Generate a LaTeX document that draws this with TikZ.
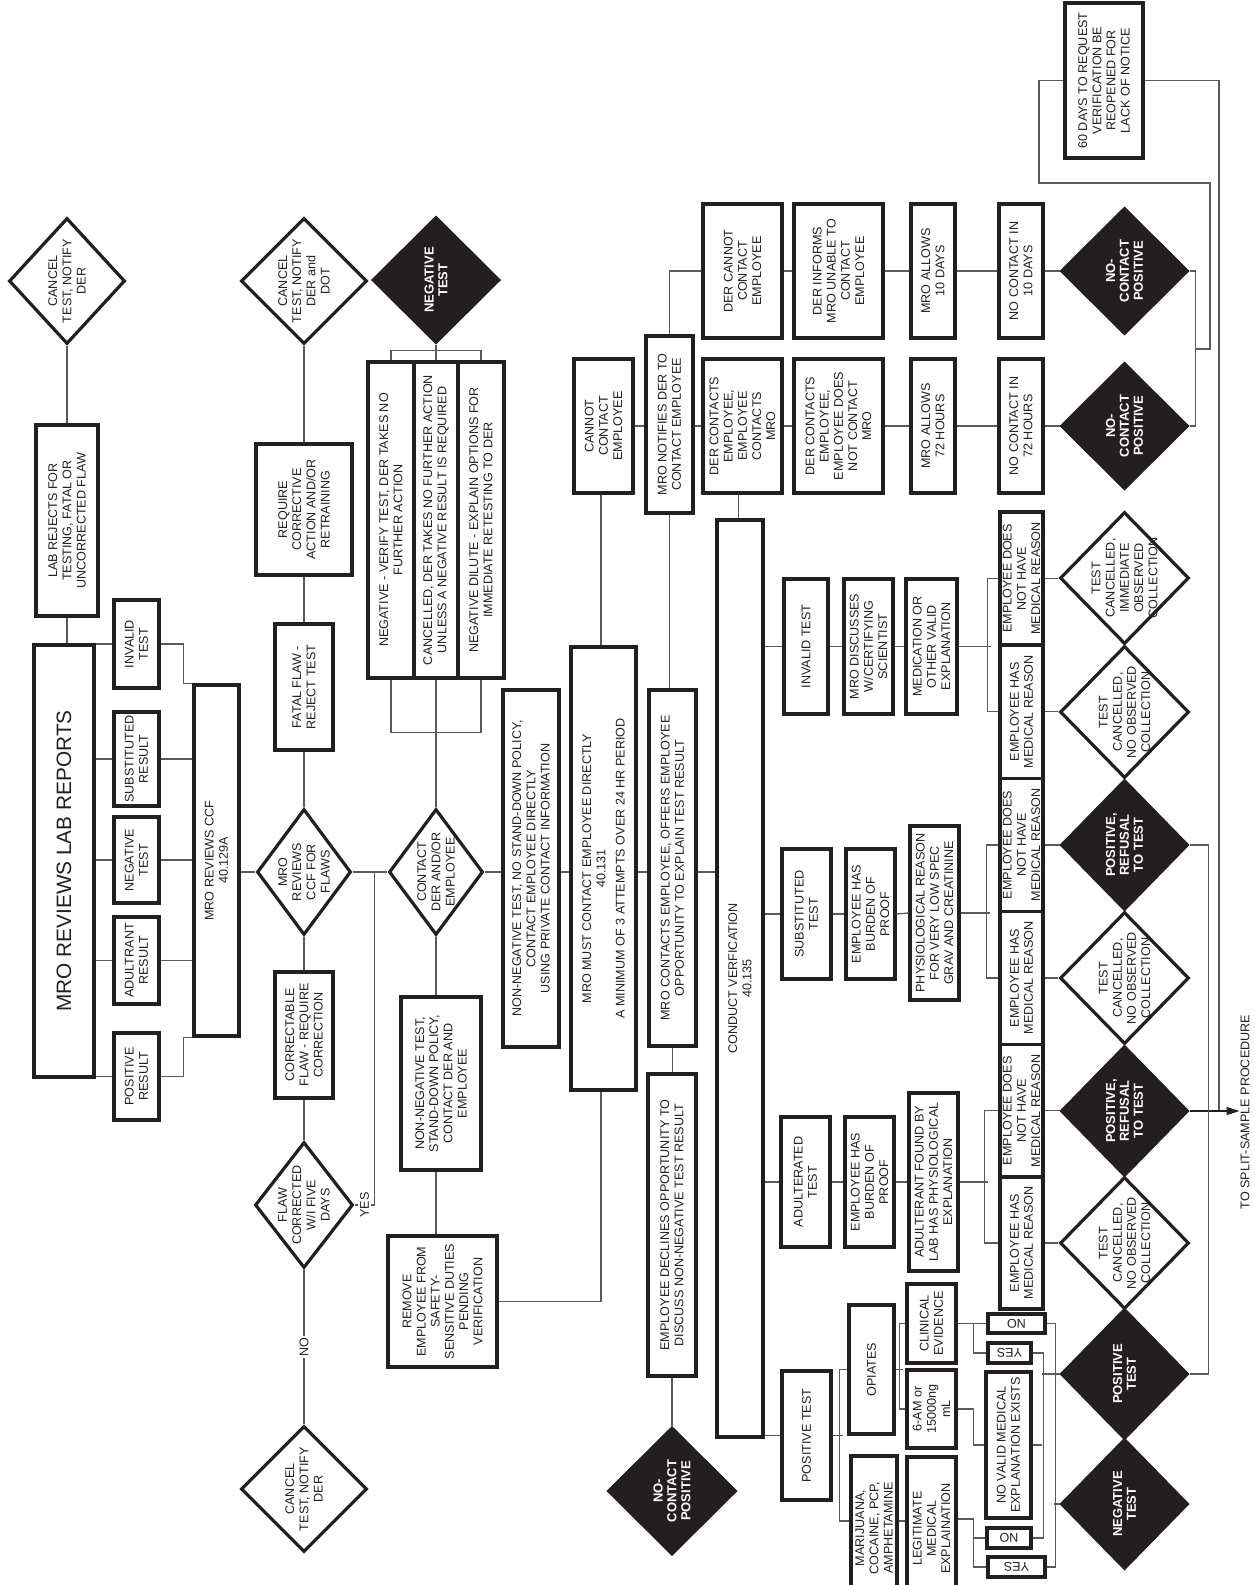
\documentclass[tikz,border=0pt]{standalone}
\usepackage{fontspec}
\setmainfont{Liberation Sans}
\usetikzlibrary{shapes.geometric,arrows.meta}
\definecolor{ink}{RGB}{35,31,32}
\definecolor{lnc}{RGB}{90,90,90}
\newcommand\myfs{\fontsize{12.6}{14.2}\selectfont}
\newcommand\myfb{\fontsize{13}{13.8}\selectfont\bfseries}
\newcommand\mytitle{\fontsize{20.8}{23}\selectfont}
\tikzset{
  box/.style={draw=ink,line width=3.2pt,inner sep=0pt,fill=white},
  txt/.style={align=center,inner sep=0pt,font=\myfs,text=ink},
  dia/.style={diamond,draw=ink,line width=3.2pt,inner sep=0pt,fill=white},
  bdia/.style={diamond,draw=ink,line width=1pt,inner sep=0pt,fill=ink},
  wtxt/.style={text=white,font=\myfb},
  ln/.style={draw=lnc,line width=1.3pt},
  lbl/.style={txt,rotate=90,fill=white,inner sep=2pt},
}
% box from (x1,y1) to (x2,y2), page pixels, y downward
\newcommand\bx[7][rotate=90]{%
  \pgfmathsetmacro\bxa{(#3+#5)/2}\pgfmathsetmacro\bxb{(#4+#6)/2}%
  \pgfmathsetmacro\bxw{#5-#3}\pgfmathsetmacro\bxh{#6-#4}%
  \node[box,minimum width=\bxw pt,minimum height=\bxh pt] (#2) at (\bxa,\bxb) {};%
  \node[txt,#1] (#2-t) at (#2.center) {#7};}
% diamond: style, name, cx, cy, half width, half height, text style, text
\newcommand\dm[8]{%
  \pgfmathsetmacro\dmw{2*#5}\pgfmathsetmacro\dmh{2*#6}%
  \node[#1,minimum width=\dmw pt,minimum height=\dmh pt] (#2) at (#3,#4) {};%
  \node[txt,rotate=90,#7] (#2-t) at (#2.center) {#8};}
\begin{document}
\begin{tikzpicture}[x=1pt,y=-1pt]
\fill[white] (0,0) rectangle (1254,1585);
\useasboundingbox (0,0) rectangle (1254,1585);

% ---------- left column ----------
\dm{dia}{can1}{67}{281}{58}{63}{}{CANCEL\\TEST, NOTIFY\\DER}
\bx{labrej}{36}{425}{98}{616}{LAB REJECTS FOR\\TESTING, FATAL OR\\UNCORRECTED FLAW}
\bx[rotate=90,font=\mytitle]{mrolab}{34}{645}{94}{1077}{MRO REVIEWS LAB REPORTS}
\bx{inval}{114}{600}{159}{688}{INVALID\\TEST}
\bx{subst}{114}{712}{159}{806}{SUBSTITUTED\\RESULT}
\bx{negr}{114}{817}{159}{903}{NEGATIVE\\TEST}
\bx{adult}{114}{917}{159}{1004}{ADULTRANT\\RESULT}
\bx{posr}{114}{1033}{159}{1120}{POSITIVE\\RESULT}
\bx{ccf}{194}{685}{239}{1036}{MRO REVIEWS CCF\\40.129A}

% ---------- flaw column ----------
\dm{dia}{can2}{304}{281}{63}{63}{}{CANCEL\\TEST, NOTIFY\\DER and\\DOT}
\bx{require}{256}{444}{352}{575}{REQUIRE\\CORRECTIVE\\ACTION AND/OR\\RETRAINING}
\bx{fatal}{275}{624}{333}{750}{FATAL FLAW -\\REJECT TEST}
\dm{dia}{flaws}{304}{872}{47}{63}{}{MRO\\REVIEWS\\CCF FOR\\FLAWS}
\bx{correct}{275}{972}{333}{1098}{CORRECTABLE\\FLAW - REQUIRE\\CORRECTION}
\dm{dia}{flawcor}{304}{1205}{49}{63}{}{FLAW\\CORRECTED\\W/I FIVE\\DAYS}
\dm{dia}{can3}{304}{1489}{63}{63}{}{CANCEL\\TEST, NOTIFY\\DER}

% ---------- negative column ----------
\dm{bdia}{negtop}{436}{280}{64.5}{64}{wtxt}{NEGATIVE\\TEST}
\bx{n1}{368}{362}{414}{678}{NEGATIVE - VERIFY TEST, DER TAKES NO\\FURTHER ACTION}
\bx{n2}{414}{362}{458}{678}{CANCELLED, DER TAKES NO FURTHER ACTION\\UNLESS A NEGATIVE RESULT IS REQUIRED}
\bx{n3}{458}{362}{504}{678}{NEGATIVE DILUTE - EXPLAIN OPTIONS FOR\\IMMEDIATE RETESTING TO DER}
\dm{dia}{contact}{436}{872}{47}{63}{}{CONTACT\\DER AND/OR\\EMPLOYEE}
\bx{nnsd}{401}{997}{481}{1170}{NON-NEGATIVE TEST,\\STAND-DOWN POLICY,\\CONTACT DER AND\\EMPLOYEE}
\bx{remove}{388}{1236}{497}{1367}{REMOVE\\EMPLOYEE FROM\\SAFETY-\\SENSITIVE DUTIES\\PENDING\\VERIFICATION}

% ---------- contact columns ----------
\bx{nnns}{503}{690}{559}{1047}{NON-NEGATIVE TEST, NO STAND-DOWN POLICY,\\CONTACT EMPLOYEE DIRECTLY\\USING PRIVATE CONTACT INFORMATION}
\bx{mromust}{571}{647}{636}{1090}{MRO MUST CONTACT EMPLOYEE DIRECTLY\\40.131\\[5pt]A MINIMUM OF 3 ATTEMPTS OVER 24 HR PERIOD}
\bx{cannot}{574}{359}{633}{493}{CANNOT\\CONTACT\\EMPLOYEE}
\bx{notif}{646}{336}{693}{513}{MRO NOTIFIES DER TO\\CONTACT EMPLOYEE}
\bx{mrocont}{649}{690}{696}{1046}{MRO CONTACTS EMPLOYEE, OFFERS EMPLOYEE\\OPPORTUNITY TO EXPLAIN TEST RESULT}
\bx{declines}{648}{1074}{696}{1376}{EMPLOYEE DECLINES OPPORTUNITY TO\\DISCUSS NON-NEGATIVE TEST RESULT}
\dm{bdia}{ncp3}{672}{1491}{65}{64.5}{wtxt}{NO-\\CONTACT\\POSITIVE}

% ---------- top right rows ----------
\bx{dercannot}{703}{204}{782}{338}{DER CANNOT\\CONTACT\\EMPLOYEE}
\bx{dercont}{703}{359}{782}{493}{DER CONTACTS\\EMPLOYEE,\\EMPLOYEE\\CONTACTS\\MRO}
\bx{derinf}{794}{204}{883}{338}{DER INFORMS\\MRO UNABLE TO\\CONTACT\\EMPLOYEE}
\bx{dernot}{794}{359}{883}{493}{DER CONTACTS\\EMPLOYEE,\\EMPLOYEE DOES\\NOT CONTACT\\MRO}
\bx{allow10}{911}{204}{955}{338}{MRO ALLOWS\\10 DAYS}
\bx{allow72}{911}{359}{955}{493}{MRO ALLOWS\\72 HOURS}
\bx{nc10}{999}{204}{1043}{338}{NO CONTACT IN\\10 DAYS}
\bx{nc72}{999}{359}{1043}{493}{NO CONTACT IN\\72 HOURS}
\dm{bdia}{ncp1}{1124.5}{271}{64.5}{64}{wtxt}{NO-\\CONTACT\\POSITIVE}
\dm{bdia}{ncp2}{1124.5}{426}{64.5}{64}{wtxt}{NO-\\CONTACT\\POSITIVE}
\bx{days60}{1065}{3}{1143}{158}{60 DAYS TO REQUEST\\VERIFICATION BE\\REOPENED FOR\\LACK OF NOTICE}

% ---------- verification ----------
\bx{conduct}{717}{520}{763}{1437}{CONDUCT VERFICATION\\40.135}
\bx{invt}{784}{579}{828}{714}{INVALID TEST}
\bx{mrodisc}{844}{579}{893}{714}{MRO DISCUSSES\\W/CERTIFYING\\SCIENTIST}
\bx{medic}{906}{579}{957}{714}{MEDICATION OR\\OTHER VALID\\EXPLANATION}
\bx{subt}{782}{849}{831}{979}{SUBSTITUTED\\TEST}
\bx{burdena}{846}{849}{895}{979}{EMPLOYEE HAS\\BURDEN OF\\PROOF}
\bx{physio}{910}{826}{959}{1000}{PHYSIOLOGICAL REASON\\FOR VERY LOW SPEC\\GRAV AND CREATININE}
\bx{adt}{781}{1117}{830}{1247}{ADULTERATED\\TEST}
\bx{burdenb}{845}{1117}{894}{1247}{EMPLOYEE HAS\\BURDEN OF\\PROOF}
\bx{adfound}{909}{1093}{958}{1271}{ADULTERANT FOUND BY\\LAB HAS PHYSIOLOGICAL\\EXPLANATION}
\bx{post}{782}{1371}{831}{1500}{POSITIVE TEST}
\bx{opi}{849}{1305}{894}{1434}{OPIATES}
\bx{mari}{851}{1456}{897}{1600}{MARIJUANA,\\COCAINE, PCP,\\AMPHETAMINE}
\bx{clin}{907}{1284}{956}{1363}{CLINICAL\\EVIDENCE}
\bx{sixam}{907}{1370}{956}{1448}{6-AM or\\15000ng\\mL}
\bx{legit}{907}{1457}{956}{1600}{LEGITIMATE\\MEDICAL\\EXPLAINATION}
\bx{novalid}{986}{1372}{1031}{1518}{NO VALID MEDICAL\\EXPLANATION EXISTS}
\bx[rotate=180]{noa}{988}{1314}{1045}{1333}{NO}
\bx[rotate=180]{yesa}{988}{1343}{1031}{1363}{YES}
\bx[rotate=180]{nob}{987}{1528}{1031}{1548}{NO}
\bx[rotate=180]{yesb}{988}{1557}{1045}{1577}{YES}

% outcome boxes
\bx{oa}{1000}{512}{1043}{645}{EMPLOYEE DOES\\NOT HAVE\\MEDICAL REASON}
\bx{ob}{1000}{645}{1043}{778.5}{EMPLOYEE HAS\\MEDICAL REASON}
\bx{oc}{1000}{778.5}{1043}{911.5}{EMPLOYEE DOES\\NOT HAVE\\MEDICAL REASON}
\bx{od}{1000}{911.5}{1043}{1044.5}{EMPLOYEE HAS\\MEDICAL REASON}
\bx{oe}{1000}{1044.5}{1043}{1177}{EMPLOYEE DOES\\NOT HAVE\\MEDICAL REASON}
\bx{of}{1000}{1177}{1043}{1309}{EMPLOYEE HAS\\MEDICAL REASON}

% result diamonds
\dm{dia}{tca}{1124.5}{578}{64.5}{66}{}{TEST\\CANCELLED,\\IMMEDIATE\\OBSERVED\\COLLECTION}
\dm{dia}{tcb}{1124.5}{712}{64.5}{66}{}{TEST\\CANCELLED,\\NO OBSERVED\\COLLECTION}
\dm{bdia}{pra}{1124.5}{845}{64.5}{66}{wtxt}{POSITIVE,\\REFUSAL\\TO TEST}
\dm{dia}{tcc}{1124.5}{978}{64.5}{66}{}{TEST\\CANCELLED,\\NO OBSERVED\\COLLECTION}
\dm{bdia}{prb}{1124.5}{1111}{64.5}{66}{wtxt}{POSITIVE,\\REFUSAL\\TO TEST}
\dm{dia}{tcd}{1124.5}{1243}{64.5}{66}{}{TEST\\CANCELLED,\\NO OBSERVED\\COLLECTION}
\dm{bdia}{pt}{1124.5}{1374}{64.5}{66}{wtxt}{POSITIVE\\TEST}
\dm{bdia}{nt}{1124.5}{1504}{64.5}{66}{wtxt}{NEGATIVE\\TEST}

\node[txt,rotate=90] (split) at (1245,1112) {TO SPLIT-SAMPLE PROCEDURE};

% ================= connectors =================
\draw[ln] (can1.south) -- (can1.south |- labrej.north);
\draw[ln] (labrej.south) -- (labrej.south |- mrolab.north);
\foreach \s in {inval,subst,negr,adult,posr}
  \draw[ln] (mrolab.east |- \s.west) -- (\s.west);
\foreach \s in {subst,negr,adult}
  \draw[ln] (\s.east) -- (\s.east -| ccf.west);
\draw[ln] (inval.east) -- ++(23,0) |- (ccf.north west);
\draw[ln] (posr.east) -- ++(23,0) |- (ccf.south west);
\draw[ln] (ccf.east |- flaws.west) -- (flaws.west);

\draw[ln] (can2.south) -- (require.north);
\draw[ln] (require.south) -- (fatal.north);
\draw[ln] (fatal.south) -- (flaws.north);
\draw[ln] (flaws.south) -- (correct.north);
\draw[ln] (correct.south) -- (flawcor.north);
\draw[ln] (flawcor.south) -- node[lbl] (nolbl) {NO} (can3.north);
\draw[ln] (flaws.east) -- (contact.west);
\coordinate (yj) at (373,872);
\draw[ln] (flawcor.east) -- node[lbl] (yeslbl) {YES} ++(20,0) |- (yj);

\draw[ln] (negtop.south) -- (n2.north);
\draw[ln] (n1.north) -- ++(0,-10) -| (n3.north);
\draw[ln] (n1.south) -- ++(0,53) -| (n3.south);
\draw[ln] (n2.south) -- (contact.north);

\draw[ln] (contact.east) -- (contact.east -| nnns.west);
\draw[ln] (nnns.east |- contact.east) -- (mromust.west |- contact.east);
\draw[ln] (mromust.east |- contact.east) -- (mrocont.west |- contact.east);
\draw[ln] (mrocont.east |- contact.east) -- (conduct.west |- contact.east);
\draw[ln] (contact.south) -- (contact.south |- nnsd.north);
\draw[ln] (contact.south |- nnsd.south) -- (contact.south |- remove.north);
\draw[ln] (remove.east) -| ([xshift=-2.5pt]mromust.south);
\draw[ln] ([xshift=-2.5pt]cannot.south) -- ([xshift=-2.5pt]cannot.south |- mromust.north);
\draw[ln] (cannot.east) -- (cannot.east -| notif.west);
\draw[ln] (notif.south) -- (notif.south |- mrocont.north);
\draw[ln] (notif.east |- dercont.west) -- (dercont.west);
\draw[ln] (notif.north) |- (dercannot.west);
\draw[ln] ([xshift=-4pt]dercont.south) -- ([xshift=-4pt]dercont.south |- conduct.north);
\draw[ln] (mrocont.south) -- (mrocont.south |- declines.north);
\draw[ln] (declines.south) -- (ncp3.north);

\draw[ln] (dercannot.east) -- (derinf.west);
\draw[ln] (derinf.east) -- (allow10.west);
\draw[ln] (allow10.east) -- (nc10.west);
\draw[ln] (nc10.east) -- (ncp1.west);
\draw[ln] (dercont.east) -- (dernot.west);
\draw[ln] (dernot.east) -- (allow72.west);
\draw[ln] (allow72.east) -- (nc72.west);
\draw[ln] (nc72.east) -- (ncp2.west);
\draw[ln] (ncp1.east) -- ++(6,0) |- (ncp2.east);
\coordinate (ja) at (1195,349);
\coordinate (jb) at (1039,183);
\draw[ln] (ja) -- ++(15,0) |- (jb) |- (days60.west);
\coordinate (sj) at (1219,1111);
\draw[ln] (days60.east) -| (sj);
\draw[ln,draw=ink,-{Triangle[length=13pt,width=8pt]}] (prb.east) -- ++(50,0);
\draw[ln] (pra.east) -- ++(19,0) |- (pt.east);

\foreach \s in {invt,subt,adt,post}
  \draw[ln] (conduct.east |- \s.west) -- (\s.west);
\draw[ln] (invt.east) -- (mrodisc.west);
\draw[ln] (mrodisc.east) -- (medic.west);
\draw[ln] (medic.east) -- ++(32,0);
\draw[ln] (oa.west) -- ++(-11,0) |- (ob.west);
\draw[ln] (subt.east) -- (burdena.west);
\draw[ln] (burdena.east) -- (physio.west);
\draw[ln] (physio.east) -- ++(29,0);
\draw[ln] (oc.west) -- ++(-12,0) |- (od.west);
\draw[ln] (adt.east) -- (burdenb.west);
\draw[ln] (burdenb.east) -- (adfound.west);
\draw[ln] (adfound.east) -- ++(28,0);
\draw[ln] (oe.west) -- ++(-14,0) |- (of.west);
\draw[ln] (oa.east) -- (oa.east -| tca.west);
\draw[ln] (ob.east) -- (ob.east -| tcb.west);
\draw[ln] (oc.east) -- (oc.east -| pra.west);
\draw[ln] (od.east) -- (od.east -| tcc.west);
\draw[ln] (oe.east) -- (oe.east -| prb.west);
\draw[ln] (of.east) -- (of.east -| tcd.west);

\draw[ln] (post.east) -- ++(10,0);
\draw[ln] (opi.west) -- ++(-8,0) |- (mari.west |- 0,1521);
\draw[ln] (opi.east) -- ++(7,0);
\draw[ln] (clin.west) -- ++(-6,0) |- (sixam.west);
\draw[ln] (mari.east |- 0,1521) -- (legit.west |- 0,1521);
\draw[ln] (clin.east) -- (clin.east -| noa.west);
\draw[ln] (clin.east) ++(16,0) |- (yesa.west);
\draw[ln] (sixam.east) -- ++(16,0) |- (novalid.west);
\draw[ln] (legit.east |- 0,1519) -- ++(16,0) |- (yesb.west);
\draw[ln] (legit.east |- 0,1519) ++(16,0) |- (nob.west);
\draw[ln] (yesa.east) -- ++(11,0) |- (nob.east);
\draw[ln] (novalid.east) -- (novalid.east -| 1042,0);
\draw[ln] (pt.west) -- (pt.west -| 1042,0);
\draw[ln] (noa.east) -- ++(9,0) |- (yesb.east);
\draw[ln] (nt.west) -- (nt.west -| 1054,0);
\end{tikzpicture}
\end{document}
